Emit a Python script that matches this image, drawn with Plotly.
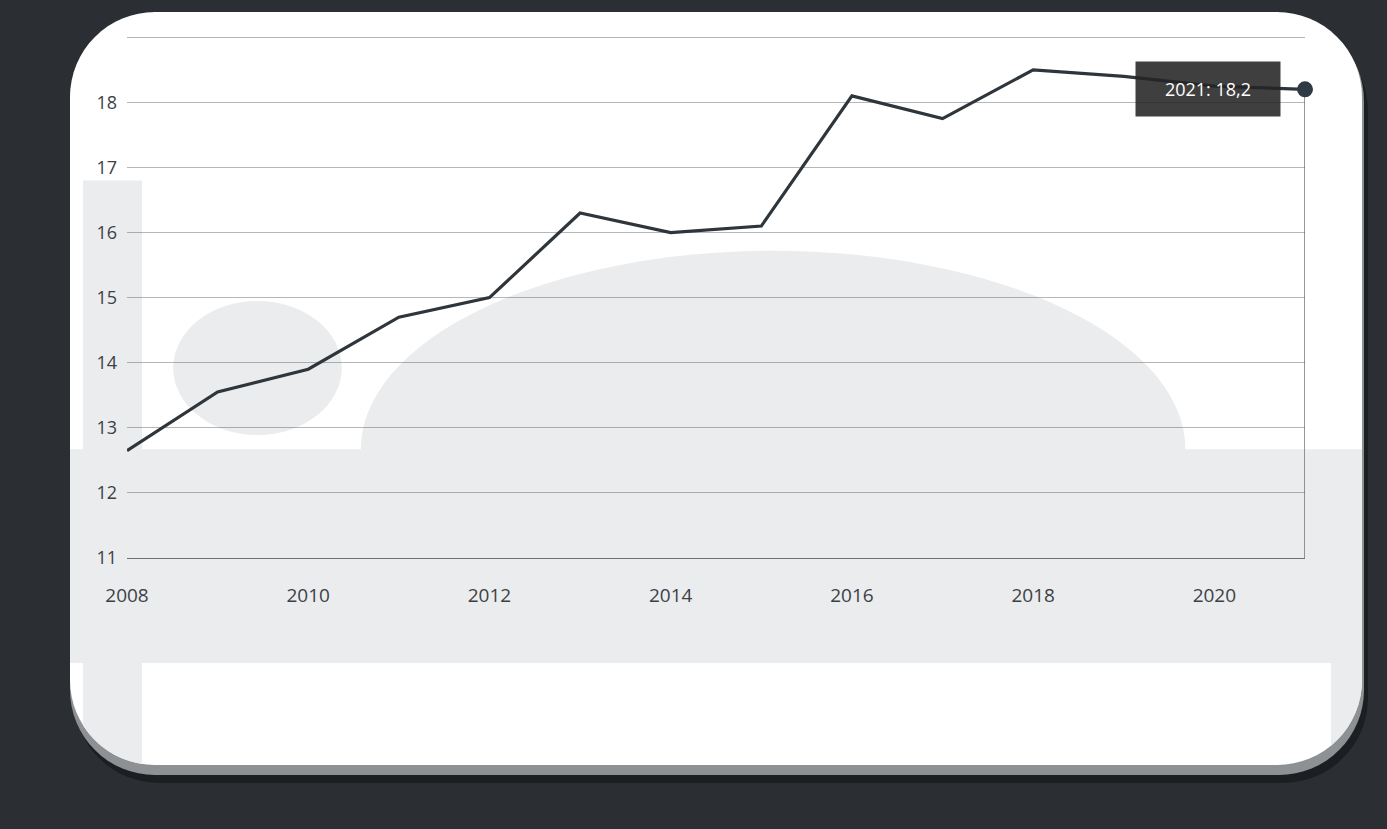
import math
import plotly.graph_objects as go

# ---------------- data ----------------
years = [2008, 2009, 2010, 2011, 2012, 2013, 2014, 2015, 2016, 2017, 2018, 2019, 2020, 2021]
values = [12.65, 13.55, 13.9, 14.7, 15.0, 16.3, 16.0, 16.1, 18.1, 17.75, 18.5, 18.4, 18.25, 18.2]
x_ticks = [2008, 2010, 2012, 2014, 2016, 2018, 2020]
y_ticks = [11, 12, 13, 14, 15, 16, 17, 18, 19]
y_ticktext = ["11", "12", "13", "14", "15", "16", "17", "18", ""]

# ---------------- layout geometry (pixels) ----------------
W, H = 1387, 829
L, R, T, B = 127, 1305, 36, 558
Y_MIN, Y_MAX = 11, 19.02
X_MIN, X_MAX = years[0], years[-1]

CARD = dict(x0=70, x1=1362, y0=12, y1=765, r=85)

BG_DARK = "#2b2f33"
GRAY = "#ebeced"
LINE_C = "#2e353b"


def xp(px):
    return (px - L) / (R - L)


def yp(py):
    return (B - py) / (B - T)


def val_to_py(v):
    return B - (v - Y_MIN) / (Y_MAX - Y_MIN) * (B - T)


def poly_path(pts):
    return "M " + " L ".join(f"{xp(x):.5f},{yp(y):.5f}" for x, y in pts) + " Z"


def arc(cx, cy, r, a0, a1, n=16):
    return [(cx + r * math.cos(math.radians(a0 + (a1 - a0) * i / n)),
             cy + r * math.sin(math.radians(a0 + (a1 - a0) * i / n))) for i in range(n + 1)]


def rounded_rect(x0, y0, x1, y1, r):
    pts = []
    pts += arc(x0 + r, y0 + r, r, 180, 270)
    pts += arc(x1 - r, y0 + r, r, 270, 360)
    pts += arc(x1 - r, y1 - r, r, 0, 90)
    pts += arc(x0 + r, y1 - r, r, 90, 180)
    return pts


shapes = []
# soft outer shadow and bevel rim of the card
shapes.append(dict(type="path", xref="paper", yref="paper", layer="below",
                   path=poly_path(rounded_rect(CARD["x0"] + 4, CARD["y0"] + 14, CARD["x1"] + 6, CARD["y1"] + 18, CARD["r"])),
                   fillcolor="rgba(0,0,0,0.35)", line=dict(width=0)))
shapes.append(dict(type="path", xref="paper", yref="paper", layer="below",
                   path=poly_path(rounded_rect(CARD["x0"], CARD["y0"] + 4, CARD["x1"] + 2, CARD["y1"] + 10, CARD["r"])),
                   fillcolor="#8e9194", line=dict(width=0)))
# white card
shapes.append(dict(type="path", xref="paper", yref="paper", layer="below",
                   path=poly_path(rounded_rect(CARD["x0"], CARD["y0"], CARD["x1"], CARD["y1"], CARD["r"])),
                   fillcolor="#ffffff", line=dict(width=0)))

# light gray horizontal band behind the lower part of the chart
band_top = val_to_py(12.67)
band_bot = B + 105
shapes.append(dict(type="rect", xref="paper", yref="paper", layer="below",
                   x0=xp(CARD["x0"]), x1=xp(CARD["x1"]), y0=yp(band_bot), y1=yp(band_top),
                   fillcolor=GRAY, line=dict(width=0)))

# left gray column behind y labels, following the card's rounded corner
col_l, col_r = CARD["x0"] + 13, L + 15
col_top = val_to_py(16.8)
ccx, ccy, cr = CARD["x0"] + CARD["r"], CARD["y1"] - CARD["r"], CARD["r"]
a_r = math.degrees(math.acos(max(-1, min(1, (col_r - ccx) / cr))))
a_l = math.degrees(math.acos(max(-1, min(1, (col_l - ccx) / cr))))
col_pts = [(col_l, col_top), (col_r, col_top)] + arc(ccx, ccy, cr, a_r, a_l, 12)
shapes.append(dict(type="path", xref="paper", yref="paper", layer="below",
                   path=poly_path(col_pts), fillcolor=GRAY, line=dict(width=0)))

# right gray strip at the bottom
rs_l = R + 26
rcx, rcy = CARD["x1"] - CARD["r"], CARD["y1"] - CARD["r"]
a_s = math.degrees(math.acos((rs_l - rcx) / cr))
rs_pts = [(rs_l, band_bot), (CARD["x1"], band_bot)] + arc(rcx, rcy, cr, 0, a_s, 12)
shapes.append(dict(type="path", xref="paper", yref="paper", layer="below",
                   path=poly_path(rs_pts), fillcolor=GRAY, line=dict(width=0)))

# decorative circle and dome (background artwork)
shapes.append(dict(type="circle", xref="x", yref="y", layer="below",
                   x0=2008.51, x1=2010.37, y0=12.89, y1=14.95,
                   fillcolor=GRAY, line=dict(width=0)))
shapes.append(dict(type="circle", xref="x", yref="y", layer="below",
                   x0=2010.58, x1=2019.68, y0=12.67 - 3.05, y1=15.72,
                   fillcolor=GRAY, line=dict(width=0)))

fig = go.Figure()
fig.add_trace(go.Scatter(x=[years[-1], years[-1]], y=[11, values[-1]], mode="lines",
                         line=dict(color="#50555a", width=1.2), hoverinfo="skip", showlegend=False))
fig.add_trace(go.Scatter(x=years, y=values, mode="lines",
                         line=dict(color=LINE_C, width=3.2), cliponaxis=False,
                         hoverinfo="skip", showlegend=False))
fig.add_trace(go.Scatter(x=[years[-1]], y=[values[-1]], mode="markers",
                         marker=dict(size=16, color="#2f3a45"), cliponaxis=False,
                         hoverinfo="skip", showlegend=False))

label = f"{years[-1]}: {values[-1]:.1f}".replace(".", ",")
fig.add_annotation(x=years[-1], y=values[-1], xref="x", yref="y", text=label,
                   showarrow=False, xanchor="right", yanchor="middle", xshift=-24,
                   width=142, height=52, borderpad=1,
                   bgcolor="rgba(36,36,36,0.88)",
                   font=dict(family="Open Sans", size=18, color="#ffffff"))

fig.update_layout(
    width=W, height=H,
    margin=dict(l=L, r=W - R, t=T, b=H - B, pad=0),
    paper_bgcolor=BG_DARK,
    plot_bgcolor="rgba(0,0,0,0)",
    shapes=shapes,
    showlegend=False,
    font=dict(family="Open Sans", color="#3c4146"),
)
fig.update_xaxes(range=[X_MIN, X_MAX], tickvals=x_ticks, showgrid=False, zeroline=False,
                 showline=True, linecolor="#6e7174", linewidth=1, ticks="",
                 ticklabelstandoff=20, tickfont=dict(size=19, color="#3c4146"))
fig.update_yaxes(range=[Y_MIN, Y_MAX], tickvals=y_ticks, ticktext=y_ticktext,
                 showgrid=True, gridcolor="rgba(80,80,85,0.42)", gridwidth=1,
                 zeroline=False, showline=False, ticks="", ticklabelstandoff=9,
                 tickfont=dict(size=18, color="#3c4146"))

fig.write_html(
    "out.html",
    config={"displayModeBar": False},
    post_script="document.body.style.margin='0';document.body.style.background='#2b2f33';",
)
